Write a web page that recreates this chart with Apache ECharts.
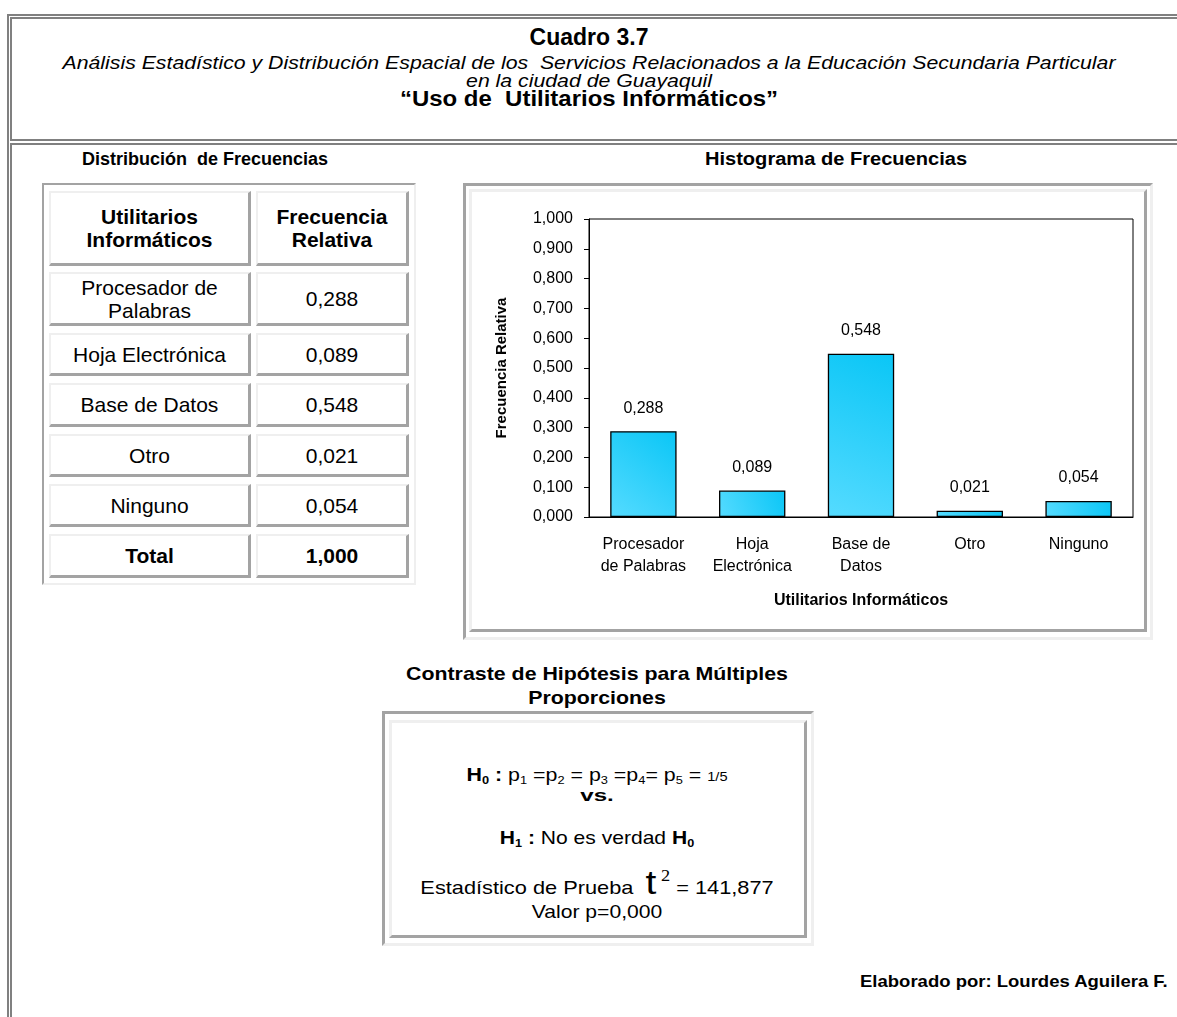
<!DOCTYPE html>
<html>
<head>
<meta charset="utf-8">
<script src="https://cdn.jsdelivr.net/npm/echarts@6/dist/echarts.min.js"></script>
<style>
  body { margin: 0; width: 1177px; height: 1017px; overflow: hidden; background: #fff;
         font-family: "Liberation Sans", Arial, sans-serif; color: #000; position: relative; }
  .abs { position: absolute; }
  .txt { position: absolute; white-space: pre; line-height: 1; }
  .c { transform: translateX(-50%); }
  .b { font-weight: bold; }
  .frame { position: absolute; border-color: #808080; border-style: solid; border-width: 0; }
  .dk { border-style: solid; border-color: #a3a3a3 #efefef #efefef #a3a3a3; }
  .lt { border-style: solid; border-color: #efefef #a3a3a3 #a3a3a3 #efefef; }
  .cell { position: absolute; box-sizing: border-box; border-width: 2px 3px 3px 2px;
          display: flex; align-items: center; justify-content: center; text-align: center;
          font-size: 21px; line-height: 23px; }
  sub { font-size: 60%; vertical-align: -3px; line-height: 0; }
</style>
</head>
<body>
<!-- marco doble exterior -->
<div class="frame" style="left:7px;top:14px;width:1200px;height:1100px;border-left-width:2px;border-top-width:2px"></div>
<div class="frame" style="left:10px;top:17px;width:1200px;height:120px;border-left-width:2px;border-top-width:2px;border-bottom-width:2px"></div>
<div class="frame" style="left:10px;top:143px;width:1200px;height:1000px;border-left-width:2px;border-top-width:2px"></div>

<!-- encabezado -->
<div class="txt c b" style="left:589px;top:26px;font-size:23px">Cuadro 3.7</div>
<div class="txt c" data-w="1053" data-g="sub" style="left:589px;top:53px;font-size:19px;font-style:italic">Análisis Estadístico y Distribución Espacial de los  Servicios Relacionados a la Educación Secundaria Particular</div>
<div class="txt c" data-g="sub" style="left:589px;top:71px;font-size:19px;font-style:italic">en la ciudad de Guayaquil</div>
<div class="txt c b" data-w="378" style="left:589px;top:88px;font-size:22px">“Uso de  Utilitarios Informáticos”</div>

<div class="txt c b" style="left:205px;top:150px;font-size:18px">Distribución  de Frecuencias</div>
<div class="txt c b" data-w="262" style="left:836px;top:150px;font-size:18px">Histograma de Frecuencias</div>

<!-- tabla de frecuencias -->
<div id="tabla" class="abs dk" style="left:42px;top:183px;width:370px;height:398px;border-width:2px"></div>

<!-- histograma -->
<div class="abs dk" style="left:463px;top:183px;width:684px;height:451px;border-width:3px"></div>
<div class="abs lt" style="left:469px;top:189px;width:672px;height:437px;border-width:3px"></div>
<div id="chart" class="abs" style="left:472px;top:192px;width:672px;height:438px"></div>

<!-- contraste de hipotesis -->
<div class="txt c b" data-w="382" data-g="con" style="left:597px;top:664px;font-size:19px">Contraste de Hipótesis para Múltiples</div>
<div class="txt c b" data-g="con" style="left:597px;top:688px;font-size:19px">Proporciones</div>
<div class="abs dk" style="left:382px;top:711px;width:426px;height:229px;border-width:3px"></div>
<div class="abs lt" style="left:389px;top:720px;width:412px;height:212px;border-width:3px"></div>
<div class="txt c" data-w="261" style="left:597px;top:765px;font-size:19px"><b>H<sub>0</sub> :</b> p<sub>1</sub> =p<sub>2</sub> = p<sub>3</sub> =p<sub>4</sub>= p<sub>5</sub> = <span style="font-size:13px">1/5</span></div>
<div class="txt c b" data-w="34" style="left:597px;top:787px;font-size:17px">vs.</div>
<div class="txt c" data-w="194" style="left:597px;top:828px;font-size:19px"><b>H<sub>1</sub> :</b> No es verdad <b>H<sub>0</sub></b></div>
<div class="txt c" data-w="353" style="left:597px;top:861px;font-size:19px;line-height:30px">Estadístico de Prueba  <span style="font-size:34px;font-family:'Liberation Sans'">t</span><sup style="font-family:'Liberation Serif';font-size:16px;vertical-align:13px"> 2</sup> = 141,877</div>
<div class="txt c" data-w="130" style="left:597px;top:902px;font-size:19px">Valor p=0,000</div>

<div class="txt b" data-w="308" data-r="1" style="right:9px;top:973px;font-size:17px">Elaborado por: Lourdes Aguilera F.</div>

<script>
// datos
var utilitarios = ['Procesador de Palabras', 'Hoja Electrónica', 'Base de Datos', 'Otro', 'Ninguno'];
var etiquetasEje = ['Procesador\nde Palabras', 'Hoja\nElectrónica', 'Base de\nDatos', 'Otro', 'Ninguno'];
var frecRelativa = [0.288, 0.089, 0.548, 0.021, 0.054];
var totalFrec = 1.000;
var yMax = 1.0;
var yInterval = 0.1;

function fmt(v) {
  return v.toFixed(3).replace('.', ',');
}

// ajuste horizontal de textos (el original esta estirado)
var escalas = {};
document.querySelectorAll('[data-w]').forEach(function (el) {
  var s = +el.dataset.w / el.offsetWidth;
  if (el.dataset.g) escalas[el.dataset.g] = s;
  el.dataset.s = s;
});
document.querySelectorAll('[data-g]').forEach(function (el) {
  if (!el.dataset.s) el.dataset.s = escalas[el.dataset.g];
});
document.querySelectorAll('[data-s]').forEach(function (el) {
  var s = el.dataset.s;
  if (el.dataset.r) {
    el.style.transformOrigin = 'right center';
    el.style.transform = 'scaleX(' + s + ')';
  } else {
    el.style.transform = 'translateX(-50%) scaleX(' + s + ')';
  }
});

// tabla (celdas)
var tabla = document.getElementById('tabla');
var col1 = { x: 5, w: 202 }, col2 = { x: 212, w: 153 };
var filas = [
  { y: 6, h: 75, a: 'Utilitarios\nInformáticos', b: 'Frecuencia\nRelativa', bold: true }
];
var filaY = [87, 148, 198, 249, 299];
var filaH = [54, 43, 44, 43, 43];
utilitarios.forEach(function (u, i) {
  filas.push({ y: filaY[i], h: filaH[i], a: i === 0 ? 'Procesador de\nPalabras' : u, b: fmt(frecRelativa[i]) });
});
filas.push({ y: 349, h: 44, a: 'Total', b: fmt(totalFrec), bold: true });
filas.forEach(function (f) {
  [[col1, f.a], [col2, f.b]].forEach(function (p) {
    var d = document.createElement('div');
    d.className = 'cell lt';
    d.style.left = p[0].x + 'px';
    d.style.width = p[0].w + 'px';
    d.style.top = f.y + 'px';
    d.style.height = f.h + 'px';
    d.style.whiteSpace = 'pre';
    if (f.bold) d.style.fontWeight = 'bold';
    d.textContent = p[1];
    tabla.appendChild(d);
  });
});

// grafico
var chart = echarts.init(document.getElementById('chart'), null, { renderer: 'canvas' });
chart.setOption({
  animation: false,
  textStyle: { fontFamily: 'Liberation Sans' },
  grid: {
    left: 117, top: 27, right: 11, bottom: 113,
    show: true, borderColor: '#000', borderWidth: 1
  },
  xAxis: {
    type: 'category',
    data: etiquetasEje,
    axisLine: { lineStyle: { color: '#000', width: 1 } },
    axisTick: { show: false },
    axisLabel: { color: '#000', fontSize: 16, lineHeight: 22, margin: 17, interval: 0 },
    name: 'Utilitarios Informáticos',
    nameLocation: 'middle',
    nameGap: 76,
    nameTextStyle: { color: '#000', fontSize: 16, fontWeight: 'bold' }
  },
  yAxis: {
    type: 'value',
    min: 0,
    max: yMax,
    interval: yInterval,
    axisLine: { show: true, lineStyle: { color: '#000', width: 1 } },
    axisTick: { show: true, length: 5, lineStyle: { color: '#000' } },
    splitLine: { show: false },
    axisLabel: { color: '#000', fontSize: 16, margin: 16, formatter: fmt },
    name: 'Frecuencia Relativa',
    nameLocation: 'middle',
    nameGap: 80,
    nameTextStyle: { color: '#000', fontSize: 15, fontWeight: 'bold' }
  },
  series: [{
    type: 'bar',
    data: frecRelativa,
    barWidth: '61%',
    itemStyle: {
      color: new echarts.graphic.LinearGradient(0, 1, 1, 0, [
        { offset: 0, color: '#55dbff' },
        { offset: 1, color: '#0ac6f6' }
      ]),
      borderColor: '#000',
      borderWidth: 1.3
    },
    label: {
      show: true,
      position: 'top',
      distance: 15,
      color: '#000',
      fontSize: 16,
      formatter: function (p) { return fmt(p.value); }
    }
  }]
});
</script>
</body>
</html>
